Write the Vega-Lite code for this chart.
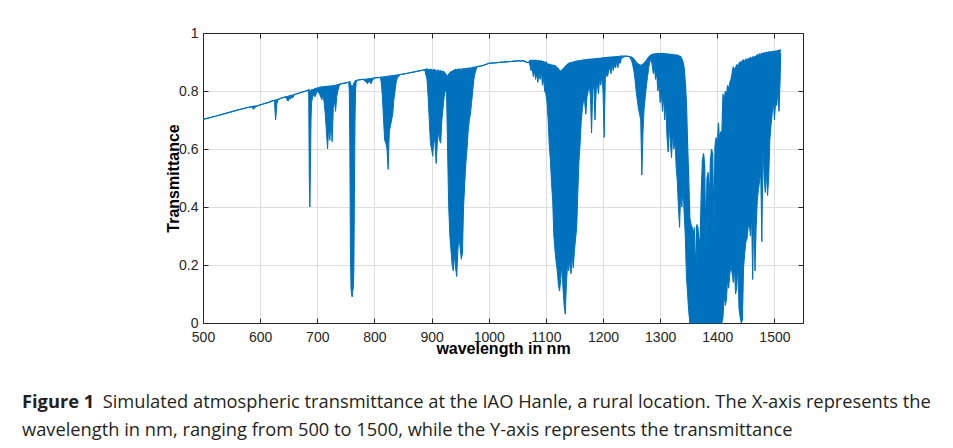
{
"$schema": "https://vega.github.io/schema/vega-lite/v6.json",
"width": 600, "height": 290,
"autosize": {"type": "none"},
"padding": {"left": 203, "top": 33, "right": 150, "bottom": 125},
"background": "white",
"title": {"text": "Figure 1", "orient": "bottom", "anchor": "start", "frame": "group", "font": "Open Sans", "fontSize": 18.3, "fontWeight": "bold", "color": "#231f20", "dx": -181, "offset": 38,
  "subtitle": ["\u200b\u00a0\u00a0\u00a0\u00a0\u00a0\u00a0\u00a0\u00a0\u00a0\u00a0\u00a0\u00a0\u00a0\u00a0\u00a0\u00a0\u00a0Simulated atmospheric transmittance at the IAO Hanle, a rural location. The X-axis represents the", "wavelength in nm, ranging from 500 to 1500, while the Y-axis represents the transmittance"],
  "subtitleFont": "Open Sans", "subtitleFontSize": 18.3, "subtitleFontWeight": "normal", "subtitleColor": "#231f20", "subtitleLineHeight": 28, "subtitlePadding": -18.3},
"config": {"view": {"stroke": null},
  "axis": {"labelFont": "Liberation Sans", "labelFontSize": 14, "labelColor": "#262626", "titleFont": "Liberation Sans", "titleFontSize": 16, "titleFontWeight": "bold", "titleColor": "#000000", "domainColor": "#262626", "tickColor": "#262626", "gridColor": "#dedede", "domainWidth": 1, "tickWidth": 1}},
"data": {"values": [
{"nm":500,"hi":0.702,"lo":0.702},{"nm":520,"hi":0.712,"lo":0.712},{"nm":540,"hi":0.723,"lo":0.723},{"nm":560,"hi":0.734,"lo":0.734},{"nm":580,"hi":0.744,"lo":0.744},{"nm":585,"hi":0.746,"lo":0.746},{"nm":588,"hi":0.747,"lo":0.737},{"nm":590,"hi":0.748,"lo":0.741},{"nm":592,"hi":0.748,"lo":0.744},{"nm":595,"hi":0.749,"lo":0.749},{"nm":600,"hi":0.752,"lo":0.752},{"nm":605,"hi":0.755,"lo":0.755},{"nm":610,"hi":0.758,"lo":0.758},{"nm":615,"hi":0.761,"lo":0.761},{"nm":620,"hi":0.765,"lo":0.765},{"nm":625,"hi":0.768,"lo":0.768},{"nm":627,"hi":0.769,"lo":0.70},{"nm":628,"hi":0.769,"lo":0.72},{"nm":629,"hi":0.770,"lo":0.755},{"nm":632,"hi":0.772,"lo":0.772},{"nm":636,"hi":0.775,"lo":0.775},{"nm":640,"hi":0.777,"lo":0.777},{"nm":645,"hi":0.780,"lo":0.780},{"nm":647,"hi":0.781,"lo":0.77},{"nm":649,"hi":0.782,"lo":0.765},{"nm":651,"hi":0.783,"lo":0.775},{"nm":653,"hi":0.784,"lo":0.772},{"nm":655,"hi":0.785,"lo":0.778},{"nm":657,"hi":0.786,"lo":0.776},{"nm":660,"hi":0.788,"lo":0.788},{"nm":665,"hi":0.791,"lo":0.791},{"nm":670,"hi":0.794,"lo":0.794},{"nm":675,"hi":0.797,"lo":0.797},{"nm":680,"hi":0.800,"lo":0.800},{"nm":684,"hi":0.803,"lo":0.803},
{"nm":685,"hi":0.804,"lo":0.79},{"nm":686,"hi":0.804,"lo":0.50},{"nm":687,"hi":0.800,"lo":0.40},{"nm":688,"hi":0.798,"lo":0.52},{"nm":689,"hi":0.800,"lo":0.70},{"nm":690,"hi":0.804,"lo":0.76},{"nm":692,"hi":0.805,"lo":0.78},{"nm":694,"hi":0.806,"lo":0.79},{"nm":696,"hi":0.808,"lo":0.78},{"nm":698,"hi":0.809,"lo":0.79},{"nm":700,"hi":0.810,"lo":0.80},
{"nm":704,"hi":0.813,"lo":0.79},{"nm":706,"hi":0.814,"lo":0.78},{"nm":708,"hi":0.813,"lo":0.77},{"nm":710,"hi":0.815,"lo":0.79},{"nm":712,"hi":0.814,"lo":0.76},{"nm":714,"hi":0.815,"lo":0.72},{"nm":716,"hi":0.816,"lo":0.66},{"nm":718,"hi":0.815,"lo":0.60},{"nm":720,"hi":0.817,"lo":0.68},{"nm":722,"hi":0.816,"lo":0.63},{"nm":724,"hi":0.818,"lo":0.70},{"nm":726,"hi":0.817,"lo":0.625},{"nm":728,"hi":0.819,"lo":0.74},{"nm":730,"hi":0.818,"lo":0.77},{"nm":732,"hi":0.820,"lo":0.73},{"nm":734,"hi":0.821,"lo":0.78},{"nm":736,"hi":0.822,"lo":0.80},{"nm":738,"hi":0.823,"lo":0.815},{"nm":740,"hi":0.824,"lo":0.824},{"nm":745,"hi":0.826,"lo":0.826},{"nm":750,"hi":0.828,"lo":0.828},{"nm":755,"hi":0.830,"lo":0.830},
{"nm":756,"hi":0.832,"lo":0.80},{"nm":757,"hi":0.832,"lo":0.60},{"nm":758,"hi":0.825,"lo":0.25},{"nm":759,"hi":0.820,"lo":0.12},{"nm":760,"hi":0.815,"lo":0.10},{"nm":761,"hi":0.815,"lo":0.09},{"nm":762,"hi":0.818,"lo":0.11},{"nm":763,"hi":0.820,"lo":0.12},{"nm":764,"hi":0.825,"lo":0.18},{"nm":765,"hi":0.830,"lo":0.45},{"nm":766,"hi":0.833,"lo":0.70},{"nm":767,"hi":0.835,"lo":0.80},{"nm":768,"hi":0.836,"lo":0.83},{"nm":770,"hi":0.837,"lo":0.837},{"nm":775,"hi":0.839,"lo":0.839},{"nm":780,"hi":0.840,"lo":0.840},
{"nm":786,"hi":0.841,"lo":0.83},{"nm":788,"hi":0.842,"lo":0.825},{"nm":790,"hi":0.842,"lo":0.835},{"nm":792,"hi":0.843,"lo":0.83},{"nm":794,"hi":0.843,"lo":0.825},{"nm":796,"hi":0.844,"lo":0.835},{"nm":800,"hi":0.845,"lo":0.845},{"nm":805,"hi":0.846,"lo":0.846},{"nm":810,"hi":0.847,"lo":0.847},
{"nm":812,"hi":0.848,"lo":0.83},{"nm":814,"hi":0.848,"lo":0.78},{"nm":816,"hi":0.849,"lo":0.70},{"nm":818,"hi":0.849,"lo":0.63},{"nm":820,"hi":0.850,"lo":0.62},{"nm":822,"hi":0.850,"lo":0.60},{"nm":824,"hi":0.851,"lo":0.53},{"nm":826,"hi":0.851,"lo":0.66},{"nm":828,"hi":0.852,"lo":0.68},{"nm":830,"hi":0.852,"lo":0.70},{"nm":832,"hi":0.853,"lo":0.72},{"nm":834,"hi":0.853,"lo":0.77},{"nm":836,"hi":0.854,"lo":0.80},{"nm":838,"hi":0.855,"lo":0.83},{"nm":840,"hi":0.855,"lo":0.845},{"nm":845,"hi":0.857,"lo":0.857},{"nm":850,"hi":0.858,"lo":0.858},{"nm":860,"hi":0.862,"lo":0.862},{"nm":870,"hi":0.866,"lo":0.866},{"nm":880,"hi":0.870,"lo":0.870},{"nm":888,"hi":0.873,"lo":0.873},
{"nm":892,"hi":0.876,"lo":0.84},{"nm":894,"hi":0.874,"lo":0.78},{"nm":896,"hi":0.872,"lo":0.70},{"nm":898,"hi":0.875,"lo":0.62},{"nm":900,"hi":0.873,"lo":0.60},{"nm":902,"hi":0.870,"lo":0.575},{"nm":904,"hi":0.874,"lo":0.64},{"nm":906,"hi":0.872,"lo":0.62},{"nm":908,"hi":0.870,"lo":0.55},{"nm":910,"hi":0.868,"lo":0.62},{"nm":912,"hi":0.872,"lo":0.66},{"nm":914,"hi":0.866,"lo":0.63},{"nm":916,"hi":0.870,"lo":0.62},{"nm":918,"hi":0.865,"lo":0.70},{"nm":920,"hi":0.868,"lo":0.74},{"nm":922,"hi":0.866,"lo":0.78},{"nm":924,"hi":0.860,"lo":0.80},{"nm":926,"hi":0.855,"lo":0.82},{"nm":928,"hi":0.850,"lo":0.60},{"nm":930,"hi":0.858,"lo":0.40},{"nm":932,"hi":0.862,"lo":0.30},{"nm":934,"hi":0.866,"lo":0.25},{"nm":936,"hi":0.868,"lo":0.20},{"nm":938,"hi":0.870,"lo":0.18},{"nm":940,"hi":0.872,"lo":0.24},{"nm":942,"hi":0.874,"lo":0.19},{"nm":944,"hi":0.872,"lo":0.16},{"nm":946,"hi":0.875,"lo":0.25},{"nm":948,"hi":0.874,"lo":0.30},{"nm":950,"hi":0.876,"lo":0.26},{"nm":952,"hi":0.874,"lo":0.22},{"nm":954,"hi":0.876,"lo":0.24},{"nm":956,"hi":0.877,"lo":0.40},{"nm":958,"hi":0.876,"lo":0.48},{"nm":960,"hi":0.878,"lo":0.55},{"nm":962,"hi":0.877,"lo":0.60},{"nm":964,"hi":0.879,"lo":0.66},{"nm":966,"hi":0.878,"lo":0.70},{"nm":968,"hi":0.880,"lo":0.72},{"nm":970,"hi":0.879,"lo":0.76},{"nm":972,"hi":0.881,"lo":0.80},{"nm":974,"hi":0.882,"lo":0.84},{"nm":976,"hi":0.882,"lo":0.86},{"nm":978,"hi":0.883,"lo":0.875},{"nm":980,"hi":0.884,"lo":0.884},{"nm":990,"hi":0.888,"lo":0.888},{"nm":1000,"hi":0.895,"lo":0.895},{"nm":1020,"hi":0.899,"lo":0.899},{"nm":1040,"hi":0.902,"lo":0.902},{"nm":1050,"hi":0.904,"lo":0.904},{"nm":1060,"hi":0.904,"lo":0.904},{"nm":1064,"hi":0.902,"lo":0.902},{"nm":1067,"hi":0.898,"lo":0.898},{"nm":1070,"hi":0.899,"lo":0.899},
{"nm":1072,"hi":0.905,"lo":0.89},{"nm":1074,"hi":0.906,"lo":0.87},{"nm":1076,"hi":0.905,"lo":0.88},{"nm":1078,"hi":0.906,"lo":0.85},{"nm":1080,"hi":0.904,"lo":0.87},{"nm":1082,"hi":0.906,"lo":0.84},{"nm":1084,"hi":0.905,"lo":0.86},{"nm":1086,"hi":0.903,"lo":0.83},{"nm":1088,"hi":0.905,"lo":0.86},{"nm":1090,"hi":0.902,"lo":0.84},{"nm":1092,"hi":0.904,"lo":0.87},{"nm":1094,"hi":0.900,"lo":0.82},{"nm":1096,"hi":0.902,"lo":0.84},{"nm":1098,"hi":0.898,"lo":0.80},{"nm":1100,"hi":0.900,"lo":0.79},{"nm":1102,"hi":0.895,"lo":0.76},{"nm":1104,"hi":0.893,"lo":0.70},{"nm":1106,"hi":0.890,"lo":0.61},{"nm":1108,"hi":0.892,"lo":0.56},{"nm":1110,"hi":0.888,"lo":0.48},{"nm":1112,"hi":0.890,"lo":0.42},{"nm":1114,"hi":0.886,"lo":0.30},{"nm":1116,"hi":0.888,"lo":0.25},{"nm":1118,"hi":0.884,"lo":0.21},{"nm":1120,"hi":0.880,"lo":0.18},{"nm":1122,"hi":0.876,"lo":0.13},{"nm":1124,"hi":0.870,"lo":0.11},{"nm":1126,"hi":0.868,"lo":0.15},{"nm":1128,"hi":0.872,"lo":0.20},{"nm":1130,"hi":0.876,"lo":0.12},{"nm":1132,"hi":0.880,"lo":0.06},{"nm":1134,"hi":0.884,"lo":0.03},{"nm":1136,"hi":0.888,"lo":0.14},{"nm":1138,"hi":0.892,"lo":0.20},{"nm":1140,"hi":0.895,"lo":0.18},{"nm":1142,"hi":0.897,"lo":0.22},{"nm":1144,"hi":0.898,"lo":0.17},{"nm":1146,"hi":0.899,"lo":0.23},{"nm":1148,"hi":0.900,"lo":0.19},{"nm":1150,"hi":0.901,"lo":0.25},{"nm":1152,"hi":0.902,"lo":0.29},{"nm":1154,"hi":0.903,"lo":0.33},{"nm":1156,"hi":0.904,"lo":0.45},{"nm":1158,"hi":0.904,"lo":0.56},{"nm":1160,"hi":0.905,"lo":0.62},{"nm":1162,"hi":0.906,"lo":0.70},{"nm":1164,"hi":0.906,"lo":0.74},{"nm":1166,"hi":0.907,"lo":0.77},{"nm":1168,"hi":0.907,"lo":0.76},{"nm":1170,"hi":0.908,"lo":0.72},{"nm":1172,"hi":0.908,"lo":0.78},{"nm":1174,"hi":0.909,"lo":0.80},{"nm":1176,"hi":0.909,"lo":0.82},{"nm":1178,"hi":0.910,"lo":0.78},{"nm":1180,"hi":0.910,"lo":0.655},{"nm":1182,"hi":0.910,"lo":0.80},{"nm":1184,"hi":0.911,"lo":0.82},{"nm":1186,"hi":0.911,"lo":0.70},{"nm":1188,"hi":0.912,"lo":0.80},{"nm":1190,"hi":0.912,"lo":0.83},{"nm":1192,"hi":0.913,"lo":0.79},{"nm":1194,"hi":0.913,"lo":0.84},{"nm":1196,"hi":0.913,"lo":0.82},{"nm":1198,"hi":0.914,"lo":0.85},{"nm":1200,"hi":0.914,"lo":0.80},{"nm":1202,"hi":0.915,"lo":0.64},{"nm":1204,"hi":0.915,"lo":0.84},{"nm":1206,"hi":0.915,"lo":0.86},{"nm":1208,"hi":0.916,"lo":0.85},{"nm":1210,"hi":0.916,"lo":0.87},{"nm":1212,"hi":0.917,"lo":0.88},{"nm":1214,"hi":0.917,"lo":0.86},{"nm":1216,"hi":0.917,"lo":0.89},{"nm":1218,"hi":0.918,"lo":0.87},{"nm":1220,"hi":0.918,"lo":0.89},{"nm":1222,"hi":0.918,"lo":0.88},{"nm":1224,"hi":0.919,"lo":0.90},{"nm":1226,"hi":0.919,"lo":0.88},{"nm":1228,"hi":0.919,"lo":0.90},{"nm":1230,"hi":0.920,"lo":0.895},{"nm":1232,"hi":0.920,"lo":0.91},{"nm":1234,"hi":0.920,"lo":0.915},{"nm":1240,"hi":0.920,"lo":0.920},{"nm":1246,"hi":0.919,"lo":0.919},
{"nm":1250,"hi":0.917,"lo":0.905},{"nm":1252,"hi":0.914,"lo":0.89},{"nm":1254,"hi":0.910,"lo":0.87},{"nm":1256,"hi":0.905,"lo":0.84},{"nm":1258,"hi":0.900,"lo":0.80},{"nm":1260,"hi":0.895,"lo":0.77},{"nm":1262,"hi":0.892,"lo":0.74},{"nm":1264,"hi":0.890,"lo":0.72},{"nm":1266,"hi":0.889,"lo":0.70},{"nm":1268,"hi":0.890,"lo":0.51},{"nm":1270,"hi":0.892,"lo":0.66},{"nm":1272,"hi":0.896,"lo":0.74},{"nm":1274,"hi":0.900,"lo":0.78},{"nm":1276,"hi":0.906,"lo":0.82},{"nm":1278,"hi":0.912,"lo":0.85},{"nm":1280,"hi":0.917,"lo":0.88},{"nm":1282,"hi":0.921,"lo":0.90},{"nm":1284,"hi":0.924,"lo":0.91},{"nm":1286,"hi":0.926,"lo":0.89},{"nm":1288,"hi":0.927,"lo":0.86},{"nm":1290,"hi":0.928,"lo":0.88},{"nm":1292,"hi":0.928,"lo":0.84},{"nm":1294,"hi":0.929,"lo":0.86},{"nm":1296,"hi":0.929,"lo":0.80},{"nm":1298,"hi":0.929,"lo":0.83},{"nm":1300,"hi":0.930,"lo":0.76},{"nm":1302,"hi":0.929,"lo":0.80},{"nm":1304,"hi":0.930,"lo":0.73},{"nm":1306,"hi":0.929,"lo":0.78},{"nm":1308,"hi":0.928,"lo":0.70},{"nm":1310,"hi":0.929,"lo":0.75},{"nm":1312,"hi":0.927,"lo":0.64},{"nm":1314,"hi":0.928,"lo":0.59},{"nm":1316,"hi":0.926,"lo":0.68},{"nm":1318,"hi":0.927,"lo":0.62},{"nm":1320,"hi":0.925,"lo":0.57},{"nm":1322,"hi":0.926,"lo":0.66},{"nm":1324,"hi":0.924,"lo":0.60},{"nm":1326,"hi":0.925,"lo":0.63},{"nm":1328,"hi":0.923,"lo":0.54},{"nm":1330,"hi":0.924,"lo":0.49},{"nm":1332,"hi":0.922,"lo":0.40},{"nm":1334,"hi":0.920,"lo":0.33},{"nm":1336,"hi":0.918,"lo":0.45},{"nm":1338,"hi":0.910,"lo":0.40},{"nm":1340,"hi":0.900,"lo":0.47},{"nm":1342,"hi":0.880,"lo":0.38},{"nm":1344,"hi":0.830,"lo":0.30},{"nm":1346,"hi":0.760,"lo":0.16},{"nm":1348,"hi":0.620,"lo":0.10},{"nm":1350,"hi":0.500,"lo":0.04},{"nm":1352,"hi":0.360,"lo":0},{"nm":1354,"hi":0.340,"lo":0},{"nm":1356,"hi":0.330,"lo":0},{"nm":1358,"hi":0.300,"lo":0},{"nm":1360,"hi":0.330,"lo":0},{"nm":1362,"hi":0.120,"lo":0},{"nm":1364,"hi":0.340,"lo":0},{"nm":1366,"hi":0.330,"lo":0},{"nm":1368,"hi":0.280,"lo":0},{"nm":1370,"hi":0.290,"lo":0},{"nm":1372,"hi":0.450,"lo":0},{"nm":1374,"hi":0.560,"lo":0},{"nm":1376,"hi":0.585,"lo":0},{"nm":1378,"hi":0.540,"lo":0},{"nm":1380,"hi":0.250,"lo":0},{"nm":1382,"hi":0.500,"lo":0},{"nm":1384,"hi":0.520,"lo":0},{"nm":1386,"hi":0.400,"lo":0},{"nm":1388,"hi":0.560,"lo":0},{"nm":1390,"hi":0.600,"lo":0},{"nm":1392,"hi":0.580,"lo":0},{"nm":1394,"hi":0.300,"lo":0},{"nm":1396,"hi":0.610,"lo":0},{"nm":1398,"hi":0.640,"lo":0},{"nm":1400,"hi":0.600,"lo":0},{"nm":1402,"hi":0.690,"lo":0},{"nm":1404,"hi":0.620,"lo":0},{"nm":1406,"hi":0.660,"lo":0},{"nm":1408,"hi":0.650,"lo":0},{"nm":1410,"hi":0.790,"lo":0.02},{"nm":1412,"hi":0.760,"lo":0.10},{"nm":1414,"hi":0.800,"lo":0.06},{"nm":1416,"hi":0.780,"lo":0.08},{"nm":1418,"hi":0.820,"lo":0.15},{"nm":1420,"hi":0.800,"lo":0.12},{"nm":1422,"hi":0.830,"lo":0.17},{"nm":1424,"hi":0.840,"lo":0.20},{"nm":1426,"hi":0.860,"lo":0.17},{"nm":1428,"hi":0.884,"lo":0.14},{"nm":1430,"hi":0.870,"lo":0.19},{"nm":1432,"hi":0.880,"lo":0.10},{"nm":1434,"hi":0.890,"lo":0.12},{"nm":1436,"hi":0.885,"lo":0.20},{"nm":1438,"hi":0.895,"lo":0.05},{"nm":1440,"hi":0.900,"lo":0.02},{"nm":1442,"hi":0.895,"lo":0},{"nm":1444,"hi":0.905,"lo":0.01},{"nm":1446,"hi":0.907,"lo":0.19},{"nm":1448,"hi":0.900,"lo":0.24},{"nm":1450,"hi":0.910,"lo":0.28},{"nm":1452,"hi":0.905,"lo":0.29},{"nm":1454,"hi":0.912,"lo":0.33},{"nm":1456,"hi":0.910,"lo":0.34},{"nm":1458,"hi":0.915,"lo":0.30},{"nm":1460,"hi":0.912,"lo":0.37},{"nm":1462,"hi":0.918,"lo":0.15},{"nm":1464,"hi":0.915,"lo":0.40},{"nm":1466,"hi":0.920,"lo":0.18},{"nm":1468,"hi":0.918,"lo":0.33},{"nm":1470,"hi":0.925,"lo":0.42},{"nm":1472,"hi":0.922,"lo":0.46},{"nm":1474,"hi":0.928,"lo":0.49},{"nm":1476,"hi":0.925,"lo":0.52},{"nm":1478,"hi":0.930,"lo":0.28},{"nm":1480,"hi":0.928,"lo":0.60},{"nm":1482,"hi":0.932,"lo":0.50},{"nm":1484,"hi":0.930,"lo":0.45},{"nm":1486,"hi":0.934,"lo":0.52},{"nm":1488,"hi":0.932,"lo":0.44},{"nm":1490,"hi":0.935,"lo":0.50},{"nm":1492,"hi":0.934,"lo":0.63},{"nm":1494,"hi":0.936,"lo":0.68},{"nm":1496,"hi":0.935,"lo":0.72},{"nm":1498,"hi":0.937,"lo":0.77},{"nm":1500,"hi":0.936,"lo":0.70},{"nm":1502,"hi":0.938,"lo":0.76},{"nm":1504,"hi":0.937,"lo":0.75},{"nm":1506,"hi":0.940,"lo":0.80},{"nm":1508,"hi":0.939,"lo":0.73},{"nm":1510,"hi":0.942,"lo":0.84},{"nm":1511,"hi":0.940,"lo":0.93}
]},
"layer": [
 {"mark": {"type": "area", "color": "#0072BD", "opacity": 1},
  "encoding": {
   "x": {"field": "nm", "type": "quantitative", "scale": {"domain": [500, 1550], "nice": false, "zero": false},
     "axis": {"orient": "bottom", "values": [500,600,700,800,900,1000,1100,1200,1300,1400,1500], "format": "d", "title": "wavelength in nm", "grid": true, "tickSize": -5, "labelPadding": 12, "labelFlush": false, "titleBaseline": "alphabetic", "titleY": 30}},
   "y": {"field": "hi", "type": "quantitative", "scale": {"domain": [0, 1], "nice": false, "zero": true},
     "axis": {"orient": "left", "values": [0,0.2,0.4,0.6,0.8,1], "format": "~g", "title": "Transmittance", "grid": true, "tickSize": -5, "labelPadding": 10, "labelFlush": false, "titleX": -25, "titleY": 145, "titleBaseline": "alphabetic", "titleAngle": -90}},
   "y2": {"field": "lo"}}},
 {"mark": {"type": "line", "color": "#0072BD", "strokeWidth": 1.2},
  "encoding": {
   "x": {"field": "nm", "type": "quantitative", "scale": {"domain": [500, 1550], "nice": false, "zero": false},
     "axis": {"orient": "top", "values": [500,600,700,800,900,1000,1100,1200,1300,1400,1500], "labels": false, "title": null, "grid": false, "tickSize": -5}},
   "y": {"field": "hi", "type": "quantitative", "scale": {"domain": [0, 1], "nice": false, "zero": true},
     "axis": {"orient": "right", "values": [0,0.2,0.4,0.6,0.8,1], "labels": false, "title": null, "grid": false, "tickSize": -5}}}},
 {"mark": {"type": "line", "color": "#0072BD", "strokeWidth": 1},
  "encoding": {
   "x": {"field": "nm", "type": "quantitative", "scale": {"domain": [500, 1550], "nice": false, "zero": false}, "axis": null},
   "y": {"field": "lo", "type": "quantitative", "scale": {"domain": [0, 1], "nice": false, "zero": true}, "axis": null}}}
],
"resolve": {"axis": {"x": "independent", "y": "independent"}}
}
